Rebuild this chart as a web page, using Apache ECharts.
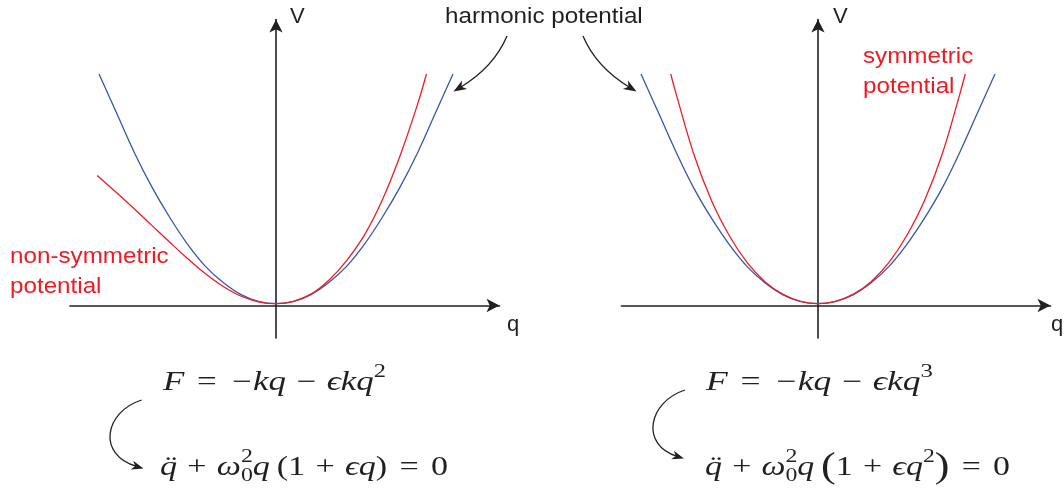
<!DOCTYPE html>
<html>
<head>
<meta charset="utf-8">
<script src="https://cdn.jsdelivr.net/npm/echarts@6/dist/echarts.min.js"></script>
<style>
html,body{margin:0;padding:0;background:#fff;}
#c{width:1064px;height:489px;}
</style>
</head>
<body>
<div id="c"></div>
<script>
// ---------------- data ----------------
// q in units of the harmonic curve's half-width, V in units of its top height
const qHarmonic      = [-1.0,-0.9,-0.8,-0.7,-0.6,-0.5,-0.4,-0.3,-0.2,-0.1,0,0.1,0.2,0.3,0.4,0.5,0.6,0.7,0.8,0.9,1.0];
const vHarmonicLeft  = [1.0,0.83,0.66,0.51,0.38,0.265,0.17,0.1,0.048,0.018,0.008,0.018,0.048,0.1,0.17,0.265,0.38,0.51,0.66,0.83,1.0];
const vHarmonicRight = [1.0,0.83,0.66,0.505,0.375,0.262,0.168,0.098,0.047,0.018,0.008,0.018,0.047,0.098,0.168,0.262,0.375,0.505,0.66,0.83,1.0];

const qNonSymmetric  = [-1.01,-0.9,-0.8,-0.7,-0.6,-0.5,-0.4,-0.3,-0.2,-0.1,0,0.1,0.2,0.3,0.4,0.5,0.6,0.7,0.8,0.85];
const vNonSymmetric  = [0.562,0.487,0.417,0.345,0.273,0.203,0.138,0.083,0.041,0.016,0.008,0.018,0.05,0.11,0.195,0.305,0.455,0.645,0.87,1.0];

const qSymmetric     = [-0.832,-0.8,-0.7,-0.6,-0.5,-0.4,-0.3,-0.2,-0.1,0,0.1,0.2,0.3,0.4,0.5,0.6,0.7,0.8,0.832];
const vSymmetric     = [1.0,0.91,0.65,0.45,0.3,0.185,0.103,0.049,0.018,0.008,0.018,0.049,0.103,0.185,0.3,0.45,0.65,0.91,1.0];

const axisNames      = ['V', 'q'];
const labelHarmonic  = 'harmonic potential';
const labelNonSym    = ['non-symmetric', 'potential'];
const labelSym       = ['symmetric', 'potential'];

// ---------------- styles ----------------
const INK = '#231f20', BLUE = '#3b55a5', RED = '#ed1c24';
const SANS = '"Liberation Sans", Arial, Helvetica, sans-serif';
const SERIF = '"Liberation Serif", "DejaVu Serif", serif';

// ---------------- text measuring helpers ----------------
const mctx = document.createElement('canvas').getContext('2d');
function baseOff(font) {
  mctx.font = font;
  mctx.textBaseline = 'alphabetic';
  const a = mctx.measureText('H').actualBoundingBoxAscent;
  mctx.textBaseline = 'middle';
  const b = mctx.measureText('H').actualBoundingBoxAscent;
  mctx.textBaseline = 'alphabetic';
  const d = a - b;
  return isFinite(d) ? d : 0.34 * parseFloat(font.match(/([\d.]+)px/)[1]);
}
function textW(font, t) { mctx.font = font; return mctx.measureText(t).width; }

function label(text, x, baseline, size, color, sx) {
  const font = size + 'px ' + SANS;
  return { type: 'text', x: x, y: baseline - baseOff(font), scaleX: sx || 1, silent: true, z: 20,
    style: { text: text, x: 0, y: 0, font: font, fill: color, align: 'left', verticalAlign: 'middle' } };
}

// small math typesetter: items placed left to right on a common baseline
function equation(items, x0, baseline, size, targetW) {
  let x = 0, stack = null, prev = null;
  const kids = [];
  const mk = (t, font, px, py) => ({ type: 'text', x: px, y: py, silent: true,
    style: { text: t, x: 0, y: 0, font: font, fill: INK, align: 'left', verticalAlign: 'middle' } });
  for (const it of items) {
    const s = size * (it.s || 1);
    const font = (it.it ? 'italic ' : '') + s + 'px ' + SERIF;
    const w = textW(font, it.t);
    const off = baseOff(font);
    if (it.over && prev) {
      kids.push(mk(it.t, font, prev.x + (prev.w - w) / 2 + (it.dx || 0) * size, (it.dy || 0) * size - off));
      continue;
    }
    let bx;
    if (stack) { bx = stack.x; } else { x += (it.g || 0) * size; bx = x; }
    kids.push(mk(it.t, font, bx, (it.dy || 0) * size - off));
    if (it.stack) { stack = { x: bx, w: w }; }
    else {
      const adv = stack ? Math.max(w, stack.w) : w;
      x = bx + adv + (it.ga || 0) * size;
      stack = null;
    }
    prev = { x: bx, w: w };
  }
  return { type: 'group', x: x0, y: baseline, scaleX: targetW / x, children: kids, silent: true, z: 20 };
}

const REL = { g: 0.36, ga: 0.36 }, BIN = { g: 0.3, ga: 0.3 };
const SUP = { s: 0.7, dy: -0.48 }, SUB = { s: 0.7, dy: 0.24 };
const eqLeftTop = [
  { t: 'F', it: 1 }, Object.assign({ t: '=' }, REL), { t: '\u2212', g: 0.08, ga: 0.04 }, { t: 'kq', it: 1 },
  Object.assign({ t: '\u2212' }, BIN), { t: '\u03f5kq', it: 1 }, Object.assign({ t: '2' }, SUP)
];
const eqLeftBottom = [
  { t: 'q', it: 1 }, { t: '\u00a8', over: 1, dx: 0.08 }, Object.assign({ t: '+' }, BIN), { t: '\u03c9', it: 1 },
  Object.assign({ t: '2', stack: 1 }, SUP), Object.assign({ t: '0' }, SUB), { t: 'q', it: 1 },
  { t: '(', g: 0.2 }, { t: '1' }, Object.assign({ t: '+' }, BIN), { t: '\u03f5q', it: 1 }, { t: ')' },
  Object.assign({ t: '=' }, REL), { t: '0' }
];
const eqRightTop = [
  { t: 'F', it: 1 }, Object.assign({ t: '=' }, REL), { t: '\u2212', g: 0.08, ga: 0.04 }, { t: 'kq', it: 1 },
  Object.assign({ t: '\u2212' }, BIN), { t: '\u03f5kq', it: 1 }, Object.assign({ t: '3' }, SUP)
];
const eqRightBottom = [
  { t: 'q', it: 1 }, { t: '\u00a8', over: 1, dx: 0.08 }, Object.assign({ t: '+' }, BIN), { t: '\u03c9', it: 1 },
  Object.assign({ t: '2', stack: 1 }, SUP), Object.assign({ t: '0' }, SUB), { t: 'q', it: 1 },
  { t: '(', g: 0.2, s: 1.3, dy: 0.08 }, { t: '1' }, Object.assign({ t: '+' }, BIN), { t: '\u03f5q', it: 1 },
  Object.assign({ t: '2' }, SUP), { t: ')', s: 1.3, dy: 0.08 },
  Object.assign({ t: '=' }, REL), { t: '0' }
];

// ---------------- annotation arrows ----------------
function arrowHead(tx, ty, dx, dy, L, W) {
  const n = Math.hypot(dx, dy); dx /= n; dy /= n;
  const nx = -dy, ny = dx;
  return { type: 'polygon', silent: true, z: 15,
    shape: { points: [[tx, ty],
      [tx - L * dx + W / 2 * nx, ty - L * dy + W / 2 * ny],
      [tx - 0.72 * L * dx, ty - 0.72 * L * dy],
      [tx - L * dx - W / 2 * nx, ty - L * dy - W / 2 * ny]] },
    style: { fill: INK } };
}
function curvedArrow(p0, c1, c2, tip, L, W) {
  const ref = c2 || c1;
  let dx = tip[0] - ref[0], dy = tip[1] - ref[1];
  const n = Math.hypot(dx, dy);
  const ex = tip[0] - 0.6 * L * dx / n, ey = tip[1] - 0.6 * L * dy / n;
  const shape = { x1: p0[0], y1: p0[1], x2: ex, y2: ey, cpx1: c1[0], cpy1: c1[1] };
  if (c2) { shape.cpx2 = c2[0]; shape.cpy2 = c2[1]; }
  return [
    { type: 'bezierCurve', shape: shape, silent: true, z: 15, style: { stroke: INK, lineWidth: 1.3, fill: null } },
    arrowHead(tip[0], tip[1], dx, dy, L, W)
  ];
}

// ---------------- layout ----------------
const GRID_TOP = 19.5, GRID_H = 318.5;
const Y0 = 305.5, VU = 231.5, QU = 177;     // axis origin row, pixels per unit
const L_LEFT = 70, L_W = 429.5, L_X0 = 276;
const R_LEFT = 621.5, R_W = 429, R_X0 = 818;
const yMax = (Y0 - GRID_TOP) / VU, yMin = -(GRID_TOP + GRID_H - Y0) / VU;

function xAxisDef(gi, left, width, x0) {
  return { type: 'value', gridIndex: gi, min: -(x0 - left) / QU, max: (left + width - x0) / QU,
    axisLine: { show: true, onZero: true, symbol: ['none', 'arrow'], symbolSize: [10, 13],
      lineStyle: { color: INK, width: 1.6 } },
    axisTick: { show: false }, axisLabel: { show: false }, splitLine: { show: false } };
}
function yAxisDef(gi) {
  return { type: 'value', gridIndex: gi, min: yMin, max: yMax,
    axisLine: { show: true, onZero: true, symbol: ['none', 'arrow'], symbolSize: [10, 13],
      lineStyle: { color: INK, width: 1.6 } },
    axisTick: { show: false }, axisLabel: { show: false }, splitLine: { show: false } };
}
function pairs(qs, vs) { return qs.map((q, i) => [q, vs[i]]); }
function curve(gi, qs, vs, color, z) {
  return { type: 'line', xAxisIndex: gi, yAxisIndex: gi, data: pairs(qs, vs), smooth: 0.4,
    showSymbol: false, silent: true, z: z, lineStyle: { color: color, width: 1.3 } };
}

const graphics = [
  label(axisNames[0], 290, 23, 22, INK),
  label(axisNames[0], 833, 23, 22, INK),
  label(axisNames[1], 507, 331, 22, INK),
  label(axisNames[1], 1051, 331, 22, INK),
  label(labelHarmonic, 445, 23, 22, INK, 1.1),
  label(labelNonSym[0], 10, 263, 22, RED, 1.1),
  label(labelNonSym[1], 10, 292.5, 22, RED, 1.1),
  label(labelSym[0], 863, 63, 22, RED, 1.1),
  label(labelSym[1], 863, 92.5, 22, RED, 1.1),
  equation(eqLeftTop, 163, 390, 27, 223),
  equation(eqLeftBottom, 160, 475, 27, 288),
  equation(eqRightTop, 706, 390, 27, 227),
  equation(eqRightBottom, 705, 475, 27, 305)
].concat(
  curvedArrow([507, 36], [494, 67], null, [453.5, 91.5], 13, 10),
  curvedArrow([583, 36], [596, 67], null, [636.5, 91.5], 13, 10),
  curvedArrow([141.7, 400], [104, 412], [97, 455], [143.5, 468.5], 12, 9),
  curvedArrow([685, 390], [648, 402], [640, 445], [684, 458.5], 12, 9)
);

const option = {
  animation: false,
  backgroundColor: '#ffffff',
  grid: [
    { left: L_LEFT, top: GRID_TOP, width: L_W, height: GRID_H, containLabel: false, outerBoundsMode: 'none' },
    { left: R_LEFT, top: GRID_TOP, width: R_W, height: GRID_H, containLabel: false, outerBoundsMode: 'none' }
  ],
  xAxis: [xAxisDef(0, L_LEFT, L_W, L_X0), xAxisDef(1, R_LEFT, R_W, R_X0)],
  yAxis: [yAxisDef(0), yAxisDef(1)],
  series: [
    curve(0, qHarmonic, vHarmonicLeft, BLUE, 3),
    curve(0, qNonSymmetric, vNonSymmetric, RED, 4),
    curve(1, qHarmonic, vHarmonicRight, BLUE, 3),
    curve(1, qSymmetric, vSymmetric, RED, 4)
  ],
  graphic: { elements: graphics }
};

const chart = echarts.init(document.getElementById('c'), null, { renderer: 'canvas' });
chart.setOption(option);
</script>
</body>
</html>
